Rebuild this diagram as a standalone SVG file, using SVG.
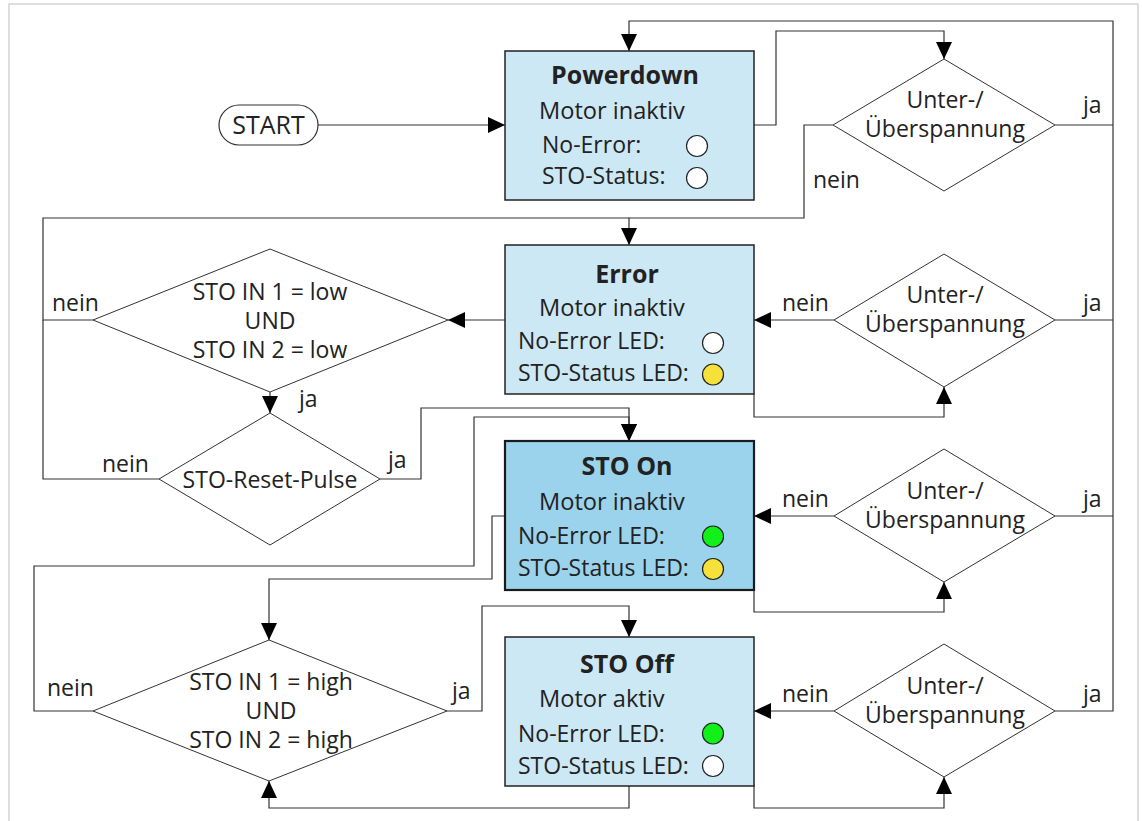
<svg xmlns="http://www.w3.org/2000/svg" width="1142" height="821" viewBox="0 0 1142 821">
<defs>
<marker id="arr" viewBox="0 0 17 16" refX="17" refY="8" markerWidth="17" markerHeight="16" markerUnits="userSpaceOnUse" orient="auto">
<path d="M0,0 L17,8 L0,16 z" fill="#000"/>
</marker>
<style>
text{font-family:"Open Sans","DejaVu Sans",sans-serif;fill:#222;font-size:23px}
.t{font-weight:bold;font-size:25px;text-anchor:middle}
.c{text-anchor:middle}
.m{font-size:23.6px}
.box{fill:#cde8f5;stroke:#222;stroke-width:1.5}
.boxon{fill:#9bd3ec;stroke:#1a1a1a;stroke-width:2.2}
.dia{fill:#fff;stroke:#333;stroke-width:1}
.led{stroke:#222;stroke-width:1.2}
.off{fill:#fff}
.grn{fill:#12f01a}
.yel{fill:#f6e03a}
.cn{fill:none;stroke:#333;stroke-width:1.2}
.ca{fill:none;stroke:#333;stroke-width:1.2;marker-end:url(#arr)}
</style>
</defs>
<rect width="1142" height="821" fill="#fff"/>
<path d="M9,821 V4 H1138 V821" fill="none" stroke="#d4d4d4" stroke-width="1.5"/>

<g id="connectors">
<path class="ca" d="M318,125 H505"/>
<path class="ca" d="M754,125 H776 V31 H944 V59"/>
<path class="cn" d="M1055,125 H1113"/>
<path class="cn" d="M1055,320 H1113"/>
<path class="cn" d="M1055,516 H1113"/>
<path class="ca" d="M1055,711 H1113 V21 H629 V51"/>
<path class="ca" d="M833,125 H804 V218 H629 V245"/>
<path class="cn" d="M93,320 H43 V218 H629"/>
<path class="cn" d="M159,479 H43 V320"/>
<path class="ca" d="M505,320 H448"/>
<path class="ca" d="M270,392 V413"/>
<path class="ca" d="M380,479 H421 V408 H629 V441"/>
<path class="ca" d="M505,516 H492 V579 H269 V640"/>
<path class="ca" d="M93,711 H34 V566 H474 V417 H629 V441"/>
<path class="ca" d="M447,711 H482 V606 H629 V637"/>
<path class="ca" d="M629,785 V808 H269 V781"/>
<path class="ca" d="M754,394 V417 H944 V387"/>
<path class="ca" d="M834,320 H754"/>
<path class="ca" d="M754,590 V612 H944 V582"/>
<path class="ca" d="M834,516 H754"/>
<path class="ca" d="M754,785 V808 H944 V777"/>
<path class="ca" d="M834,711 H754"/>
</g>

<g id="labels">
<text x="813" y="188">nein</text>
<text x="1083" y="113">ja</text>
<text x="52" y="311">nein</text>
<text x="299" y="407">ja</text>
<text x="102" y="472">nein</text>
<text x="388" y="468">ja</text>
<text x="47" y="696">nein</text>
<text x="452" y="699">ja</text>
<text x="782" y="311">nein</text>
<text x="1083" y="311">ja</text>
<text x="782" y="507">nein</text>
<text x="1083" y="507">ja</text>
<text x="782" y="702">nein</text>
<text x="1083" y="702">ja</text>
</g>

<g id="start">
<rect x="219" y="105" width="99" height="40" rx="20" fill="#fff" stroke="#333" stroke-width="1.2"/>
<text class="c" x="268.5" y="134" style="font-size:25px">START</text>
</g>

<g id="powerdown">
<rect class="box" x="505" y="51" width="249" height="149"/>
<text class="t" x="625" y="84">Powerdown</text>
<text class="m" x="539" y="119">Motor inaktiv</text>
<text x="542" y="153">No-Error:</text>
<text x="542" y="184">STO-Status:</text>
<circle class="led off" cx="697" cy="146" r="10.5"/>
<circle class="led off" cx="697" cy="178" r="10.5"/>
</g>

<g id="error">
<rect class="box" x="505" y="245" width="249" height="149"/>
<text class="t" x="627" y="283">Error</text>
<text class="m" x="539" y="316">Motor inaktiv</text>
<text x="518" y="349">No-Error LED:</text>
<text x="518" y="381">STO-Status LED:</text>
<circle class="led off" cx="713" cy="343" r="10.5"/>
<circle class="led yel" cx="713" cy="374.5" r="10.5"/>
</g>

<g id="sto-on">
<rect class="boxon" x="505" y="441" width="249" height="149"/>
<text class="t" x="627" y="475">STO On</text>
<text class="m" x="539" y="510">Motor inaktiv</text>
<text x="518" y="544">No-Error LED:</text>
<text x="518" y="576">STO-Status LED:</text>
<circle class="led grn" cx="713" cy="536.5" r="10.5"/>
<circle class="led yel" cx="713" cy="569" r="10.5"/>
</g>

<g id="sto-off">
<rect class="box" x="505" y="637" width="249" height="149"/>
<text class="t" x="627" y="673">STO Off</text>
<text class="m" x="539" y="707">Motor aktiv</text>
<text x="518" y="742">No-Error LED:</text>
<text x="518" y="774">STO-Status LED:</text>
<circle class="led grn" cx="713" cy="733.5" r="10.5"/>
<circle class="led off" cx="713" cy="766" r="10.5"/>
</g>

<g id="volt-1">
<polygon class="dia" points="944,59 1055,125 944,191 833,125"/>
<text class="c" x="945" y="108">Unter-/</text>
<text class="c" x="945" y="137">Überspannung</text>
</g>

<g id="volt-2">
<polygon class="dia" points="944,254 1055,320 944,387 834,320"/>
<text class="c" x="945" y="303">Unter-/</text>
<text class="c" x="945" y="332">Überspannung</text>
</g>

<g id="volt-3">
<polygon class="dia" points="944,449 1055,516 944,582 834,516"/>
<text class="c" x="945" y="499">Unter-/</text>
<text class="c" x="945" y="528">Überspannung</text>
</g>

<g id="volt-4">
<polygon class="dia" points="944,644 1055,711 944,777 834,711"/>
<text class="c" x="945" y="694">Unter-/</text>
<text class="c" x="945" y="723">Überspannung</text>
</g>

<g id="low-check">
<polygon class="dia" points="270,249 448,320 270,392 93,320"/>
<text class="c" x="270" y="300">STO IN 1 = low</text>
<text class="c" x="270" y="329">UND</text>
<text class="c" x="270" y="358">STO IN 2 = low</text>
</g>

<g id="reset-pulse">
<polygon class="dia" points="270,413 380,479 270,545 159,479"/>
<text class="c" x="270" y="488">STO-Reset-Pulse</text>
</g>

<g id="high-check">
<polygon class="dia" points="269,640 447,711 269,781 93,711"/>
<text class="c" x="271" y="690">STO IN 1 = high</text>
<text class="c" x="271" y="719">UND</text>
<text class="c" x="271" y="748">STO IN 2 = high</text>
</g>
</svg>
